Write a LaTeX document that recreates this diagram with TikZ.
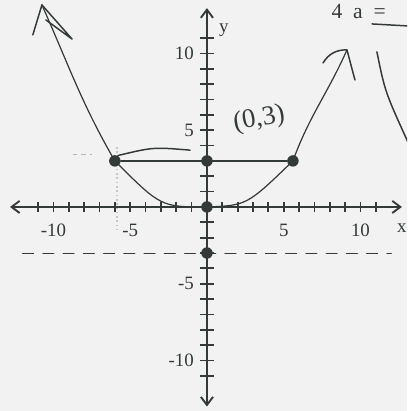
\documentclass[tikz,border=0pt]{standalone}
\usepackage{fontspec}
\setmainfont{Liberation Serif}
\usetikzlibrary{arrows.meta}
\definecolor{paper}{RGB}{242,242,242}
\definecolor{ink}{RGB}{52,58,56}

\begin{document}
\begin{tikzpicture}[
    x=0.4cm, y=0.4cm,
    axis/.style={ink, line width=1.4pt},
    tick/.style={ink, line width=1.3pt},
    curve/.style={ink, line width=0.9pt, line cap=round},
    pen/.style={ink, line width=1.1pt, line cap=round, line join=round},
    dot/.style={circle, fill=ink, inner sep=0pt, minimum size=8.5pt},
    lbl/.style={font=\fontsize{14}{16}\selectfont, text=ink},
    hand/.style={font=\fontsize{20}{22}\selectfont, text=ink},
    arr/.style={{Straight Barb[length=6pt, width=9pt]}-{Straight Barb[length=6pt, width=9pt]}},
]

% Paper
\fill[paper] (-13.48,-13.29) rectangle (13.03,13.48);
\clip (-13.48,-13.29) rectangle (13.03,13.48);

% Axes
\draw[axis, arr] (-12.83,0) -- (12.7,0);
\draw[axis, arr] (0,-13.0) -- (0,12.95);

% Ticks
\foreach \i in {-11,...,-1,1,2,...,11} {
    \draw[tick] (\i,-0.35) -- (\i,0.35);
    \draw[tick] (-0.45,\i) -- (0.45,\i);
}

% Tick labels
\foreach \v in {-10,-5,5,10} {
    \node[lbl] (xl\v) at (\v,-1.5) {\v};
    \node[lbl, anchor=east] (yl\v) at (-0.55,\v) {\v};
}
\node[lbl] (xname) at (12.7,-1.37) {x};
\node[lbl] (yname) at (1.1,11.5) {y};

% Faint marks
\draw[gray!45, line width=1.2pt, dotted] (-5.86,3.9) -- (-5.86,-1.5);
\draw[gray!55, line width=0.8pt, dashed] (-8.7,3.4) -- (-7.5,3.4);

% Points
\node[dot] (vertex) at (0,0) {};
\node[dot] (focus) at (0,3) {};
\node[dot] (endL) at (-6,3) {};
\node[dot] (endR) at (5.6,3) {};
\node[dot] (dirpt) at (0,-3) {};

% Directrix
\draw[pen, line width=1pt, dash pattern=on 8pt off 7pt] (-12,-3.05) -- (12,-3.05);

% Parabola
\coordinate (tipL) at (-10.75,13.16);
\coordinate (tipR) at (9.12,10.23);
\draw[curve] (endL.center) .. controls (-3,0) .. (vertex.center)
    .. controls (2.6,0.1) .. (endR.center);
\draw[curve] (endL.center) to[out=120, in=-66] (tipL);
\draw[curve] (endR.center) to[out=70, in=-114] (tipR);
\draw[pen] (-11.34,11.21) -- (tipL) -- (-8.79,10.94) -- (-10.49,12.18);
\draw[pen] (7.56,9.38) to[bend left=30] (tipR) -- (9.64,8.27);

% Latus rectum
\draw[pen, line width=1.3pt] (endL) -- (focus) -- (endR);
\draw[pen] (-5.8,3.35) .. controls (-3.5,3.9) .. (-1.1,3.7);
\node[hand, rotate=10, inner sep=0pt] (focuslbl) at (3.4,5.7) {(0,3)};

% Notes at top right
\node[font=\fontsize{16}{18}\selectfont, text=ink, anchor=base west, inner sep=0pt]
    (note) at (8.1,12.3) {4\hspace{8pt}a\hspace{8pt}=};
\draw[pen] (10.75,11.92) -- (13.1,11.79);
\draw[pen] (11.07,10.10) .. controls (11.6,7.5) .. (13.1,4.2);

\end{tikzpicture}
\end{document}
